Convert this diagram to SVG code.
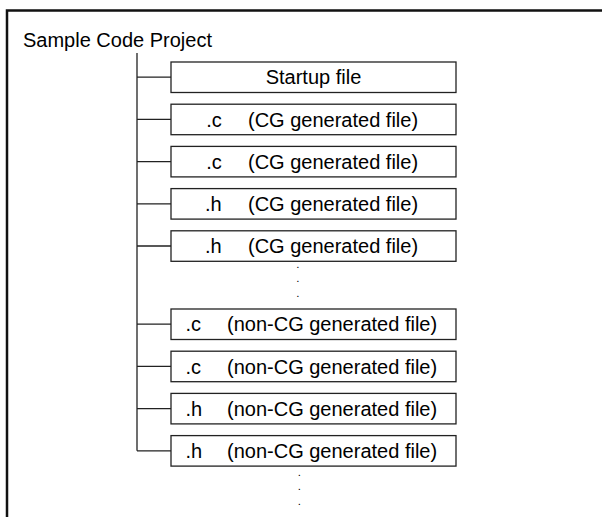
<svg xmlns="http://www.w3.org/2000/svg" width="602" height="517" viewBox="0 0 602 517">
<style>
  .frame { fill: none; stroke: #111; stroke-width: 2.5; }
  .box { fill: #fff; stroke: #222; stroke-width: 1.3; }
  .conn { fill: none; stroke: #222; stroke-width: 1.3; }
  text { font-family: "Liberation Sans", Arial, sans-serif; font-size: 20px; fill: #000; }
  .c { text-anchor: middle; }
  .dot { font-size: 11.5px; }
</style>
<rect width="602" height="517" fill="#fff"/>
<path class="frame" d="M7,517 V10.5 H602"/>
<text x="23" y="46.7">Sample Code Project</text>

<g id="connectors">
  <path class="conn" d="M137,53 V450.8 M137,77.2 H171 M137,119.4 H171 M137,161.6 H171 M137,203.8 H171 M137,246 H171 M137,324.2 H171 M137,366.4 H171 M137,408.6 H171 M137,450.8 H171"/>
</g>

<g id="startup">
  <rect class="box" x="171" y="62" width="285" height="30.5"/>
  <text class="c" x="313.5" y="84.2">Startup file</text>
</g>
<g id="cg-c-1">
  <rect class="box" x="171" y="104.2" width="285" height="30.5"/>
  <text y="126.6"><tspan x="206.3">.c</tspan><tspan x="248">(CG generated file)</tspan></text>
</g>
<g id="cg-c-2">
  <rect class="box" x="171" y="146.4" width="285" height="30.5"/>
  <text y="168.8"><tspan x="206.3">.c</tspan><tspan x="248">(CG generated file)</tspan></text>
</g>
<g id="cg-h-1">
  <rect class="box" x="171" y="188.6" width="285" height="30.5"/>
  <text y="211"><tspan x="205">.h</tspan><tspan x="248">(CG generated file)</tspan></text>
</g>
<g id="cg-h-2">
  <rect class="box" x="171" y="230.8" width="285" height="30.5"/>
  <text y="253.2"><tspan x="205">.h</tspan><tspan x="248">(CG generated file)</tspan></text>
</g>
<g id="dots-1">
  <text class="dot" x="296.2" y="268.3">.</text>
  <text class="dot" x="296.2" y="282.3">.</text>
  <text class="dot" x="296.2" y="296.6">.</text>
</g>
<g id="noncg-c-1">
  <rect class="box" x="171" y="309" width="285" height="30.5"/>
  <text y="331.4"><tspan x="185.5">.c</tspan><tspan x="227">(non-CG generated file)</tspan></text>
</g>
<g id="noncg-c-2">
  <rect class="box" x="171" y="351.2" width="285" height="30.5"/>
  <text y="373.6"><tspan x="185.5">.c</tspan><tspan x="227">(non-CG generated file)</tspan></text>
</g>
<g id="noncg-h-1">
  <rect class="box" x="171" y="393.4" width="285" height="30.5"/>
  <text y="415.8"><tspan x="185.5">.h</tspan><tspan x="227">(non-CG generated file)</tspan></text>
</g>
<g id="noncg-h-2">
  <rect class="box" x="171" y="435.6" width="285" height="30.5"/>
  <text y="458"><tspan x="185.5">.h</tspan><tspan x="227">(non-CG generated file)</tspan></text>
</g>
<g id="dots-2">
  <text class="dot" x="297.8" y="475.6">.</text>
  <text class="dot" x="297.8" y="489.6">.</text>
  <text class="dot" x="297.8" y="504.6">.</text>
</g>
</svg>
